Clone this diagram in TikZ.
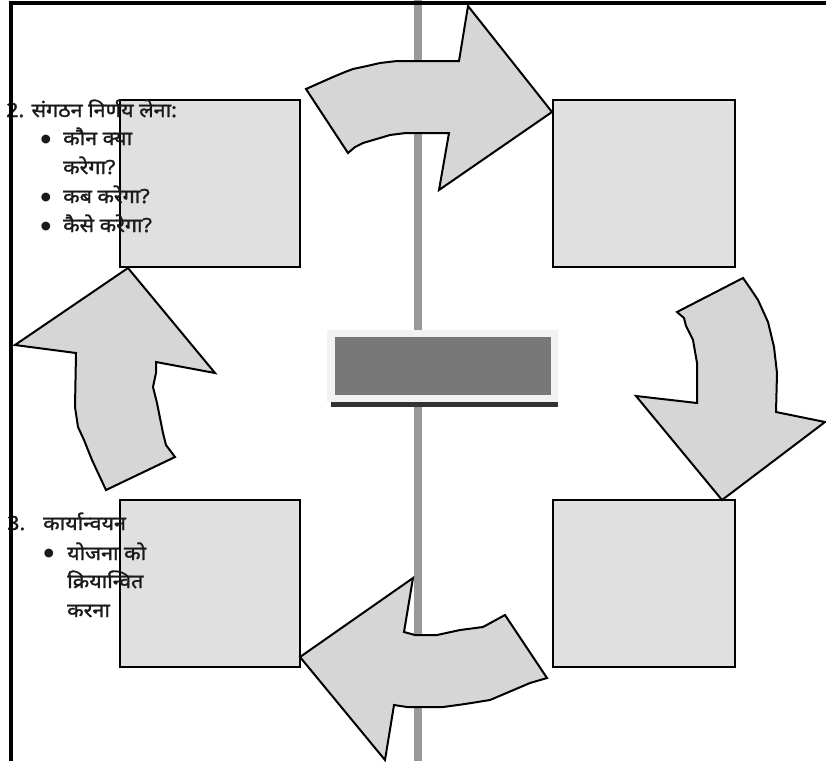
\documentclass[tikz,border=0pt]{standalone}
\usepackage{fontspec}
\usepackage{tikz}
\usetikzlibrary{positioning}
\newfontfamily\hindifont[Script=Devanagari, FakeBold=1.6, FakeStretch=1.1]{Noto Sans}
\newfontfamily\dotfont{DejaVu Sans}
\definecolor{cycleGray}{RGB}{214,214,214}
\definecolor{stageGray}{RGB}{224,224,224}
\definecolor{axisGray}{RGB}{154,154,158}
\definecolor{hubGray}{RGB}{120,120,120}
\definecolor{hubLight}{RGB}{242,242,242}
\definecolor{hubShadow}{RGB}{51,51,51}
\definecolor{inkDark}{RGB}{26,26,26}

\begin{document}
\begin{tikzpicture}[x=1pt, y=-1pt,
  stagebox/.style={draw=black, line width=2pt, fill=stageGray, minimum height=167pt, inner sep=0pt},
  cyclearrow/.style={draw=black, line width=2pt, fill=cycleGray, line join=miter},
  hinditext/.style={font=\hindifont\fontsize{19.5}{22}\selectfont, text=inkDark, inner sep=0pt, anchor=base west},
  listdot/.style={font=\dotfont\fontsize{11.5}{12}\selectfont, text=inkDark, inner sep=0pt, anchor=center}]
\useasboundingbox (0,0) rectangle (826,761);

% vertical axis behind everything
\fill[axisGray] (414,0) rectangle (422,761);

% four stage boxes
\node[stagebox, minimum width=180pt] (stageNW) at (210,183.5) {};
\node[stagebox, minimum width=182pt] (stageNE) at (644,183.5) {};
\node[stagebox, minimum width=180pt] (stageSW) at (210,583.5) {};
\node[stagebox, minimum width=182pt] (stageSE) at (644,583.5) {};

% curved block arrows (clockwise)
\draw[cyclearrow] (306,89) -- (333,77) -- (345,72) -- (353,69) -- (367,66) -- (380,63) -- (397,61)
  -- (459,61) -- (468,6) -- (552,112) -- (439,190) -- (449,133) -- (406,133)
  -- (390,135) -- (380,138) -- (363,143) -- (355,147) -- (348,153) -- cycle;
\draw[cyclearrow] (677,312) -- (743,278) -- (750,288) -- (758,300) -- (768,322) -- (774,347) -- (777,373)
  -- (776,412) -- (825,422) -- (722,500) -- (636,396) -- (697,403)
  -- (697,363) -- (693,340) -- (686,326) -- (684,318) -- cycle;
\draw[cyclearrow] (128,268) -- (215,373) -- (156,362) -- (156,373) -- (153,387) -- (157,403)
  -- (163,433) -- (166,445) -- (175,457) -- (106,490) -- (92,460) -- (84,440) -- (78,427)
  -- (75,407) -- (76,353) -- (15,345) -- cycle;
\draw[cyclearrow] (300,657) -- (413,578) -- (404,632) -- (415,635) -- (437,635) -- (460,630)
  -- (483,627) -- (505,615) -- (547,678) -- (530,683) -- (490,700) -- (465,704) -- (443,707)
  -- (407,707) -- (394,705) -- (385,760) -- cycle;

% central panel
\fill[hubShadow] (331,336) rectangle (558,407);
\node[fill=hubLight, minimum width=231pt, minimum height=72pt, inner sep=0pt] (hub) at (442.5,366) {};
\node[fill=hubGray, minimum width=216pt, minimum height=58pt, inner sep=0pt] (hubInner) at (hub.center) {};

% text of stage 2
\node[hinditext] (orgTitle) at (6,117) {2. संगठन निर्णय लेना:};
\node[listdot] (orgDotA) at (46,140) {●};
\node[hinditext] (orgItemA) at (63,145) {कौन क्या};
\node[hinditext] (orgItemAb) at (63,174) {करेगा?};
\node[listdot] (orgDotB) at (46,198) {●};
\node[hinditext] (orgItemB) at (63,203) {कब करेगा?};
\node[listdot] (orgDotC) at (46,227) {●};
\node[hinditext] (orgItemC) at (63,232) {कैसे करेगा?};

% text of stage 3
\node[hinditext] (implNum) at (7,530) {3.};
\node[hinditext] (implTitle) at (43,530) {कार्यान्वयन};
\node[listdot] (implDot) at (49,554) {●};
\node[hinditext] (implItemA) at (67,560) {योजना को};
\node[hinditext] (implItemAb) at (67,588) {क्रियान्वित};
\node[hinditext] (implItemAc) at (67,617) {करना};

% frame on the left and top
\draw[line width=4pt] (11,761) -- (11,3) -- (826,3);
\end{tikzpicture}
\end{document}
